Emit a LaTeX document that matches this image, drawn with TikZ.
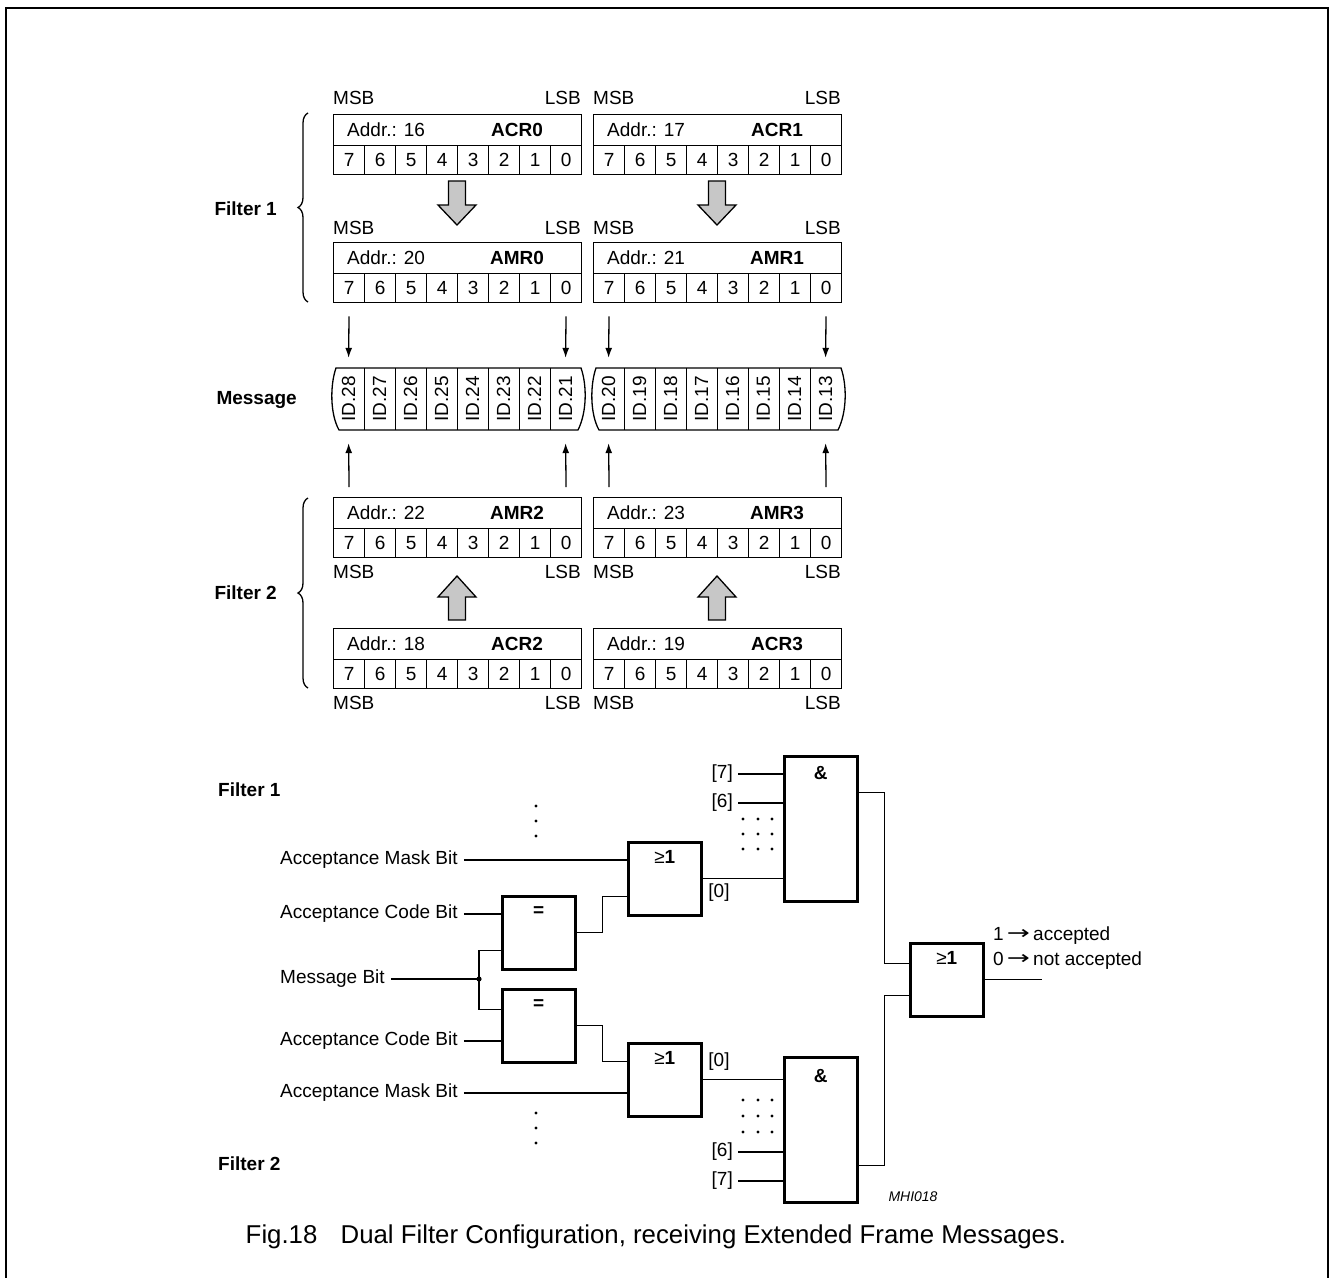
\documentclass[tikz,border=0pt]{standalone}
\usepackage{fontspec}
\setmainfont{Liberation Sans}
\newfontfamily\dejavu{DejaVu Sans}
\usetikzlibrary{arrows.meta,decorations.pathreplacing}
\newcommand\myreg[5]{%
  \node[regtop, anchor=north west] (#4) at (#1,#2) {};
  \node[anchor=west] at ([xshift=14pt]#4.west) {Addr.: #3};
  \node at ([xshift=184pt]#4.west) {\textbf{#4}};
  \foreach \b [count=\i from 0] in {7,6,5,4,3,2,1,0}
    \node[bitcell, anchor=north west] (#4-\b) at ({#1+\i*31},{#2+31}) {\b};
  \node[anchor=west] at (#1,#5) {MSB};
  \node[anchor=east] at ({#1+248},#5) {LSB};
}
\newcommand\myarr{\raisebox{0.05em}{\scalebox{1.45}[1]{\dejavu →}}}
\begin{document}
\begin{tikzpicture}[x=1pt,y=-1pt,
  every node/.style={font=\fontsize{19}{22}\selectfont, inner sep=0pt},
  thinl/.style={line width=1.3pt},
  regtop/.style={draw, thinl, minimum width=248pt, minimum height=31pt},
  bitcell/.style={draw, thinl, minimum width=31pt, minimum height=29pt},
  msgcell/.style={minimum width=31pt, minimum height=62pt},
  garrow/.style={draw, thinl, fill=black!22, line join=miter},
  thinarrow/.style={thinl, -{Latex[length=10pt,width=7pt]}},
  gate/.style={draw, line width=2.5pt, minimum width=73pt},
  wire/.style={line width=1.3pt},
  gatelbl/.style={anchor=north, font=\fontsize{19}{22}\selectfont\bfseries},
  brc/.style={thinl, decorate, decoration={brace, amplitude=10pt}},
  bold/.style={font=\fontsize{19}{22}\selectfont\bfseries}
]
\useasboundingbox (0,0) rectangle (1329,1277);
\draw[line width=2pt] (5.5,8) rectangle (1327.5,1300);

% ---------------- registers ----------------
\myreg{333}{114}{16}{ACR0}{98}
\myreg{593}{114}{17}{ACR1}{98}
\myreg{333}{242}{20}{AMR0}{228}
\myreg{593}{242}{21}{AMR1}{228}
\myreg{333}{497}{22}{AMR2}{572}
\myreg{593}{497}{23}{AMR3}{572}
\myreg{333}{628}{18}{ACR2}{703}
\myreg{593}{628}{19}{ACR3}{703}

% gray arrows
\foreach \cx in {457,717} {
  \draw[garrow] ({\cx-8.5},181) -- ({\cx+8.5},181) -- ({\cx+8.5},205) -- ({\cx+19},205)
     -- (\cx,225) -- ({\cx-19},205) -- ({\cx-8.5},205) -- cycle;
  \draw[garrow] ({\cx-8.5},620) -- ({\cx+8.5},620) -- ({\cx+8.5},597) -- ({\cx+19},597)
     -- (\cx,576) -- ({\cx-19},597) -- ({\cx-8.5},597) -- cycle;
}

% braces and labels
\draw[brc] (308,302) -- (308,113);
\draw[brc] (308,688) -- (308,498);
\node[bold, anchor=east] at (277,209) {Filter 1};
\node[bold, anchor=east] at (277,593) {Filter 2};
\node[bold, anchor=east] at (297,400) {Message};

% ---------------- message ----------------
\foreach \n [count=\i from 0] in {28,27,26,25,24,23,22,21}
  \node[msgcell] (m\n) at ({348.5+\i*31},399) {\rotatebox{90}{ID.\n}};
\foreach \n [count=\i from 0] in {20,19,18,17,16,15,14,13}
  \node[msgcell] (m\n) at ({608.5+\i*31},399) {\rotatebox{90}{ID.\n}};
\foreach \n in {28,27,26,25,24,23,22,20,19,18,17,16,15,14}
  \draw[thinl] (m\n.north east) -- (m\n.south east);
\draw[thinl] (336,368) -- (581,368) .. controls (587,385) and (587,412) .. (578,430)
   -- (339,430) .. controls (330,414) and (330,385) .. (336,368) -- cycle;
\draw[thinl] (596,368) -- (841,368) .. controls (847,385) and (847,412) .. (838,430)
   -- (599,430) .. controls (590,414) and (590,385) .. (596,368) -- cycle;

\foreach \a/\b in {AMR0-7/m28, AMR0-0/m21, AMR1-7/m20, AMR1-0/m13}
  \draw[thinarrow, shorten <=13pt, shorten >=10pt] (\a.south) -- (\b.north);
\foreach \a/\r/\b in {AMR2-7/AMR2/m28, AMR2-0/AMR2/m21, AMR3-7/AMR3/m20, AMR3-0/AMR3/m13}
  \draw[thinarrow, shorten <=10pt, shorten >=13pt] (\a.north |- \r.north) -- (\b.south);

% ---------------- logic ----------------
\node[gate, minimum height=73pt, anchor=north west] (or1) at (627,841) {};
\node[gate, minimum height=73pt, anchor=north west] (eq1) at (501,895) {};
\node[gate, minimum height=73pt, anchor=north west] (eq2) at (501,988) {};
\node[gate, minimum height=73pt, anchor=north west] (or2) at (627,1042) {};
\node[gate, minimum height=145pt, anchor=north west] (and1) at (783,755) {};
\node[gate, minimum height=145pt, anchor=north west] (and2) at (783,1056) {};
\node[gate, minimum height=73pt, anchor=north west] (or3) at (909,942) {};

\node[gatelbl] at ([yshift=-9pt]or1.north) {\mdseries≥\bfseries1};
\node[gatelbl] at ([yshift=-9pt]or2.north) {\mdseries≥\bfseries1};
\node[gatelbl] at ([yshift=-9pt]or3.north) {\mdseries≥\bfseries1};
\node[gatelbl] at ([yshift=-11pt]eq1.north) {=};
\node[gatelbl] at ([yshift=-11pt]eq2.north) {=};
\node[gatelbl] at ([yshift=-11pt]and1.north) {\&};
\node[gatelbl] at ([yshift=-13pt]and2.north) {\&};

\node[bold, anchor=west] at (218,790) {Filter 1};
\node[bold, anchor=west] at (218,1164) {Filter 2};

\node[anchor=west] (mask1) at (280,860) {Acceptance Mask Bit};
\node[anchor=west] (code1) at (280,914) {Acceptance Code Bit};
\node[anchor=west] (msgb) at (280,979) {Message Bit};
\node[anchor=west] (code2) at (280,1041) {Acceptance Code Bit};
\node[anchor=west] (mask2) at (280,1093) {Acceptance Mask Bit};

\draw[wire, shorten <=6pt] (mask1.east) -- (mask1.east -| or1.west);
\draw[wire, shorten <=6pt] (code1.east) -- (code1.east -| eq1.west);
\draw[wire, shorten <=6pt] (code2.east) -- (code2.east -| eq2.west);
\draw[wire, shorten <=6pt] (mask2.east) -- (mask2.east -| or2.west);
\coordinate (jn) at (479,979);
\draw[wire, shorten <=6pt] (msgb.east) -- (jn);
\fill (jn) circle (2.6);
\draw[wire] (jn) |- ([yshift=-17.5pt]eq1.west);
\draw[wire] (jn) |- ([yshift=16.5pt]eq2.west);
\draw[wire] (eq1.east) -- ++(26,0) |- ([yshift=-17.5pt]or1.west);
\draw[wire] (eq2.east) -- ++(26,0) |- ([yshift=18.5pt]or2.west);
\draw[wire] (or1.east) -- (or1.east -| and1.west);
\draw[wire] (or2.east) -- (or2.east -| and2.west);

\node (z1) at (719,893) {[0]};
\node (z2) at (719,1062) {[0]};
\node[anchor=east] (s7a) at (733,774) {[7]};
\node[anchor=east] (s6a) at (733,803) {[6]};
\node[anchor=east] (s6b) at (733,1152) {[6]};
\node[anchor=east] (s7b) at (733,1181) {[7]};
\foreach \s/\g in {s7a/and1, s6a/and1, s6b/and2, s7b/and2}
  \draw[wire, shorten <=5pt] (\s.east) -- (\s.east -| \g.west);

\foreach \y in {806,821,836} \fill (536,\y) circle (1.6);
\foreach \y in {1113,1128,1143} \fill (536,\y) circle (1.6);
\foreach \x in {743,758,772} {
  \foreach \y in {819,834,849} \fill (\x,\y) circle (1.6);
  \foreach \y in {1100,1116,1132} \fill (\x,\y) circle (1.6);
}

\draw[wire] ([yshift=36.5pt]and1.east) -- ++(26,0) |- ([yshift=16.5pt]or3.west);
\draw[wire] ([yshift=-35.5pt]and2.east) -- ++(26,0) |- ([yshift=-15.5pt]or3.west);
\draw[wire] (or3.east) -- ++(57,0) coordinate (out);
\node[anchor=west] at (993,936) {1\,\myarr\,accepted};
\node[anchor=west] at (993,961) {0\,\myarr\,not accepted};

\node[font=\fontsize{14}{16}\selectfont\itshape] at (913,1197) {MHI018};
\node[font=\fontsize{25.8}{29}\selectfont] at (656,1237) {Fig.18\hspace{0.9em}Dual Filter Configuration, receiving Extended Frame Messages.};
\end{tikzpicture}
\end{document}
